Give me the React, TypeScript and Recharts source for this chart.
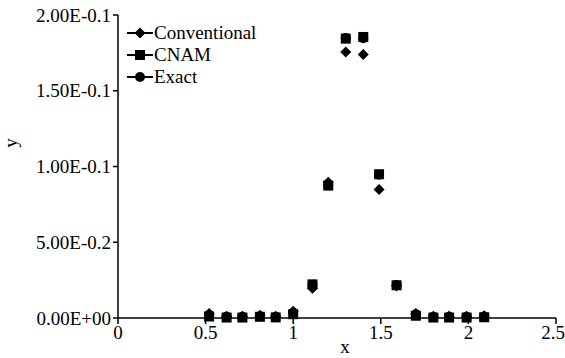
import React from 'react';
import { ScatterChart, Scatter, XAxis, YAxis } from 'recharts';

const xValues = [0.52, 0.62, 0.71, 0.81, 0.9, 1.0, 1.11, 1.2, 1.3, 1.4, 1.49, 1.59, 1.7, 1.8, 1.89, 1.99, 2.09];
const conventional = [0.003, 0.0012, 0.0012, 0.0018, 0.0012, 0.0045, 0.0196, 0.0896, 0.1756, 0.1739, 0.0848, 0.0212, 0.003, 0.0012, 0.0012, 0.0012, 0.0015];
const cnam = [0.001, 0.0003, 0.0003, 0.0008, 0.0004, 0.0025, 0.0222, 0.0874, 0.1844, 0.1855, 0.0949, 0.0216, 0.0015, 0.0003, 0.0003, 0.0003, 0.0005];
const exact = [0.002, 0.0008, 0.0008, 0.0012, 0.0008, 0.0035, 0.022, 0.0876, 0.1848, 0.1846, 0.0945, 0.0218, 0.0025, 0.0008, 0.0008, 0.0008, 0.001];

const xTicks = [0, 0.5, 1, 1.5, 2, 2.5];
const xTickLabels = ['0', '0.5', '1', '1.5', '2', '2.5'];
const yTicks = [0, 0.05, 0.1, 0.15, 0.2];
const yTickLabels = ['0.00E+00', '5.00E-0.2', '1.00E-0.1', '1.50E-0.1', '2.00E-0.1'];
const seriesNames = ['Conventional', 'CNAM', 'Exact'];

const toPoints = (ys: number[]) => xValues.map((x, i) => ({ x, y: ys[i] }));
const convData = toPoints(conventional);
const cnamData = toPoints(cnam);
const exactData = toPoints(exact);

const FONT = '"Liberation Serif", "Times New Roman", serif';
const S = 5;

const Diamond = (p: any) => (
  <polygon
    points={`${p.cx},${p.cy - S - 0.5} ${p.cx + S + 0.5},${p.cy} ${p.cx},${p.cy + S + 0.5} ${p.cx - S - 0.5},${p.cy}`}
    fill="#000"
  />
);
const Square = (p: any) => <rect x={p.cx - S} y={p.cy - S} width={2 * S} height={2 * S} fill="#000" />;
const Circle = (p: any) => <circle cx={p.cx} cy={p.cy} r={S} fill="#000" />;

const markerFor = (name: string, cx: number, cy: number) => {
  if (name === 'Conventional') return <Diamond cx={cx} cy={cy} />;
  if (name === 'CNAM') return <Square cx={cx} cy={cy} />;
  return <Circle cx={cx} cy={cy} />;
};

const LegendBox = () => (
  <div style={{ position: 'absolute', left: 127, top: 22, fontFamily: FONT, fontSize: 19, color: '#000' }}>
    {seriesNames.map((n) => (
      <div key={n} style={{ display: 'flex', alignItems: 'center', height: 22 }}>
        <svg width={26} height={14} style={{ display: 'block' }}>
          <line x1={0} y1={7} x2={26} y2={7} stroke="#000" strokeWidth={2} />
          {markerFor(n, 13, 7)}
        </svg>
        <span style={{ marginLeft: 1, lineHeight: '22px', whiteSpace: 'nowrap' }}>{n}</span>
      </div>
    ))}
  </div>
);

const YLabel = () => (
  <text x={17} y={143} transform="rotate(-90 17 143)" textAnchor="middle" fontFamily={FONT} fontSize={19} fill="#000">
    y
  </text>
);
const XLabel = () => (
  <text x={345} y={353} textAnchor="middle" fontFamily={FONT} fontSize={19} fill="#000">
    x
  </text>
);

export default function App() {
  return (
    <div style={{ position: 'absolute', left: 0, top: 0, width: 565, height: 358, background: '#fff' }}>
      <ScatterChart width={565} height={358} margin={{ top: 15, right: 9, bottom: 0, left: 0 }}>
        <XAxis
          type="number"
          dataKey="x"
          domain={[0, 2.5]}
          ticks={xTicks}
          tickFormatter={(v: number) => xTickLabels[xTicks.indexOf(v)]}
          height={40}
          tickSize={6}
          tickMargin={2}
          axisLine={{ stroke: '#000', strokeWidth: 1.5 }}
          tickLine={{ stroke: '#000', strokeWidth: 1.5 }}
          tick={{ fill: '#000', fontFamily: FONT, fontSize: 19 }}
          label={<XLabel />}
          allowDataOverflow
        />
        <YAxis
          type="number"
          dataKey="y"
          domain={[0, 0.2]}
          ticks={yTicks}
          tickFormatter={(v: number) => yTickLabels[yTicks.indexOf(v)]}
          width={118}
          tickSize={5}
          tickMargin={2}
          axisLine={{ stroke: '#000', strokeWidth: 1.5 }}
          tickLine={{ stroke: '#000', strokeWidth: 1.5 }}
          tick={{ fill: '#000', fontFamily: FONT, fontSize: 19 }}
          label={<YLabel />}
        />
        <Scatter name="Conventional" data={convData} shape={<Diamond />} isAnimationActive={false} />
        <Scatter name="CNAM" data={cnamData} shape={<Square />} isAnimationActive={false} />
        <Scatter name="Exact" data={exactData} shape={<Circle />} isAnimationActive={false} />
      </ScatterChart>
      <LegendBox />
    </div>
  );
}
